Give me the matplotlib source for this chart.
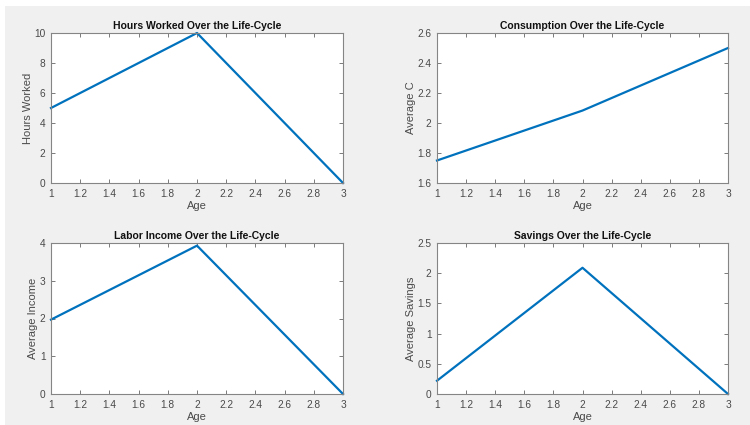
import matplotlib
matplotlib.use("Agg")
import matplotlib.pyplot as plt
from matplotlib.patches import Rectangle

age = [1, 2, 3]
hours = [5.0, 10.0, 0.0]
consumption = [1.75, 2.083, 2.5]
income = [1.97, 3.93, 0.0]
savings = [0.22, 2.09, 0.0]

titles = ["Hours Worked Over the Life-Cycle", "Consumption Over the Life-Cycle",
          "Labor Income Over the Life-Cycle", "Savings Over the Life-Cycle"]
ylabels = ["Hours Worked", "Average C", "Average Income", "Average Savings"]
series = [hours, consumption, income, savings]
ylims = [(0, 10), (1.6, 2.6), (0, 4), (0, 2.5)]
yticks = [[0, 2, 4, 6, 8, 10], [1.6, 1.8, 2.0, 2.2, 2.4, 2.6], [0, 1, 2, 3, 4],
          [0, 0.5, 1, 1.5, 2, 2.5]]
xticks = [1, 1.2, 1.4, 1.6, 1.8, 2, 2.2, 2.4, 2.6, 2.8, 3]

plt.rcParams['font.family'] = ['Liberation Sans', 'DejaVu Sans']

W, H = 750, 425
fig = plt.figure(figsize=(7.5, 4.25), dpi=100)
fig.patch.set_facecolor('white')
fig.patches.append(Rectangle((5 / W, 0), 1 - 5 / W, 1 - 6 / H, transform=fig.transFigure,
                             facecolor='#f0f0f0', edgecolor='none', zorder=-10))

boxes = [(51, 343, 33, 183), (437, 728, 33, 183), (51, 343, 243, 394), (437, 728, 243, 394)]

def fmt(v):
    return '%g' % v

for i, (l, r, t, b) in enumerate(boxes):
    ax = fig.add_axes([l / W, 1 - b / H, (r - l) / W, (b - t) / H])
    ax.plot(age, series[i], color='#0072BD', linewidth=1.6, clip_on=False)
    ax.set_xlim(1, 3)
    ax.set_ylim(*ylims[i])
    ax.set_xticks(xticks)
    ax.set_xticklabels([fmt(v) for v in xticks])
    ax.set_yticks(yticks[i])
    ax.set_yticklabels([fmt(v) for v in yticks[i]])
    ax.tick_params(direction='in', top=True, right=True, labelsize=7.3, colors='#7a7a7a',
                   length=3, width=0.7)
    ax.tick_params(axis='x', pad=4.5)
    ax.tick_params(axis='y', pad=4)
    for lab in ax.get_xticklabels() + ax.get_yticklabels():
        lab.set_color('#4a4a4a')
    for sp in ax.spines.values():
        sp.set_color('#858585')
        sp.set_linewidth(0.8)
    ax.set_title(titles[i], fontsize=7.5, fontweight='bold', color='#111111', pad=3)
    ax.set_xlabel("Age", fontsize=8, color='#4a4a4a', labelpad=1.5)
    ax.set_ylabel(ylabels[i], fontsize=8, color='#4a4a4a', labelpad=1)

fig.savefig("out.png", dpi=100, facecolor=fig.get_facecolor())
